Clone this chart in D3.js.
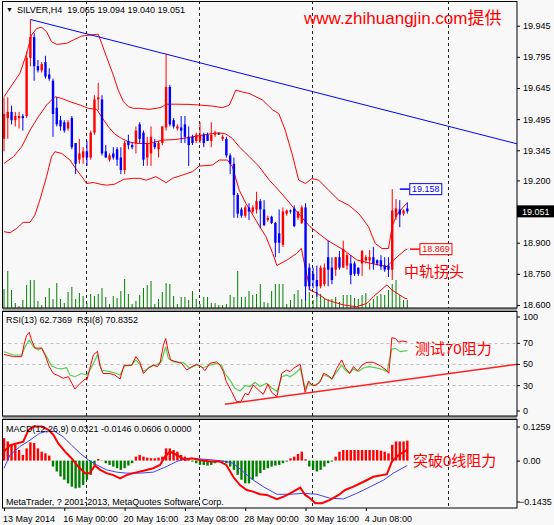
<!DOCTYPE html>
<html>
<head>
<meta charset="utf-8">
<script src="https://cdn.jsdelivr.net/npm/d3@7"></script>
<style>
  body { margin: 0; background: #f8f8f8; }
  svg { display: block; font-family: "Liberation Sans", Arial, sans-serif; }
  .axis text { font-size: 9px; fill: #000; }
  .axis line { stroke: #000; }
  .label { font-size: 9px; fill: #000; white-space: pre; }
  .note { fill: #ff0000; font-family: "Liberation Sans", "Noto Sans CJK SC", sans-serif; }
</style>
</head>
<body>
<svg id="chart" width="554" height="525"></svg>
<script>
// SILVER H4, bars 0..107
const open = [19.40,19.50,19.53,19.49,19.50,19.51,19.51,19.79,19.89,19.75,
  19.73,19.77,19.71,19.68,19.55,19.49,19.48,19.45,19.50,19.38,
  19.30,19.31,19.34,19.31,19.43,19.59,19.59,19.34,19.30,19.33,
  19.35,19.31,19.25,19.39,19.37,19.38,19.47,19.43,19.31,19.33,
  19.38,19.35,19.38,19.455,19.65,19.49,19.45,19.455,19.47,19.41,
  19.41,19.39,19.39,19.42,19.42,19.39,19.42,19.426,19.40,19.40,
  19.32,19.28,19.13,19.06,19.03,19.07,19.05,19.06,19.10,19.06,
  19.01,19.025,18.995,18.945,18.89,19.04,19.055,19.065,19.02,18.995,
  19.07,18.78,18.75,18.72,18.69,18.70,18.83,18.78,18.77,18.83,
  18.78,18.79,18.80,18.80,18.78,18.80,18.815,18.815,18.83,18.815,
  18.815,18.79,18.79,18.77,19.025,19.06,19.04,19.065];
const high = [19.60,19.60,19.56,19.53,19.53,19.52,19.82,19.975,19.91,19.78,
  19.77,19.80,19.74,19.69,19.60,19.51,19.49,19.49,19.51,19.38,
  19.40,19.36,19.39,19.44,19.61,19.67,19.61,19.37,19.33,19.36,
  19.36,19.36,19.39,19.42,19.38,19.46,19.48,19.44,19.41,19.46,
  19.40,19.39,19.46,19.81,19.66,19.50,19.47,19.51,19.51,19.46,
  19.42,19.43,19.48,19.43,19.43,19.48,19.44,19.43,19.42,19.41,
  19.33,19.31,19.14,19.07,19.08,19.09,19.08,19.145,19.11,19.105,
  19.03,19.03,19.00,19.06,19.07,19.06,19.06,19.08,19.05,19.08,
  19.09,18.80,18.78,18.79,18.79,18.80,18.91,18.83,18.83,18.86,
  18.91,18.85,18.84,18.81,18.78,18.865,18.84,18.865,18.88,18.82,
  18.84,18.83,18.83,19.158,19.11,19.105,19.06,19.094];
const low = [19.34,19.40,19.47,19.46,19.45,19.44,19.50,19.75,19.68,19.72,
  19.72,19.69,19.68,19.41,19.46,19.44,19.43,19.44,19.35,19.23,
  19.28,19.28,19.27,19.30,19.42,19.54,19.32,19.31,19.29,19.30,
  19.27,19.23,19.23,19.35,19.35,19.33,19.38,19.27,19.27,19.27,
  19.35,19.31,19.37,19.44,19.46,19.45,19.44,19.38,19.38,19.27,
  19.37,19.38,19.38,19.36,19.39,19.36,19.41,19.42,19.39,19.31,
  19.23,19.02,19.02,19.02,19.02,19.01,19.04,19.04,18.97,18.98,
  19.00,18.99,18.83,18.85,18.88,19.03,19.04,18.975,19.01,18.99,
  18.62,18.67,18.68,18.64,18.68,18.69,18.69,18.70,18.74,18.77,
  18.78,18.77,18.70,18.74,18.74,18.74,18.80,18.77,18.77,18.79,
  18.77,18.76,18.735,18.72,19.01,18.975,19.03,19.040];
const close = [19.52,19.53,19.49,19.51,19.51,19.50,19.79,19.89,19.75,19.73,
  19.76,19.70,19.69,19.52,19.47,19.46,19.44,19.48,19.36,19.28,
  19.33,19.34,19.31,19.43,19.59,19.60,19.33,19.31,19.32,19.31,
  19.30,19.25,19.38,19.37,19.36,19.44,19.40,19.30,19.38,19.41,
  19.36,19.38,19.46,19.65,19.47,19.46,19.46,19.44,19.41,19.37,
  19.38,19.42,19.42,19.38,19.39,19.42,19.43,19.426,19.41,19.32,
  19.28,19.13,19.04,19.03,19.07,19.05,19.07,19.10,19.06,18.985,
  19.02,18.995,18.90,18.90,19.05,19.055,19.05,18.98,19.05,19.07,
  18.69,18.69,18.72,18.69,18.78,18.78,18.77,18.72,18.83,18.78,
  18.87,18.84,18.745,18.75,18.75,18.86,18.83,18.83,18.80,18.80,
  18.785,18.77,18.77,19.055,19.065,19.035,19.055,19.051];
const volume = [1900,3700,1800,500,200,800,2300,2800,2800,700,
  300,1100,2000,900,2500,900,500,1600,2100,900,
  1500,1200,500,1400,1200,1400,2000,1100,400,1200,
  1000,1700,2900,1400,400,700,1300,2000,2300,2700,
  400,900,1600,2500,2400,1200,400,1100,1100,800,
  1700,900,400,1100,1100,500,500,300,300,400,
  1300,1100,3700,1100,1100,1700,1300,1400,2400,600,
  500,1700,2400,2400,2400,400,800,1400,1800,900,
  2400,1600,800,1600,1400,1000,900,900,1100,600,
  1300,1300,1300,1000,900,1300,1500,500,900,1200,
  1400,1300,1800,2400,2800,1300,800,800];

// Bollinger bands, [bar, price]
const bandUpper = [[0,19.603],[4.2,19.715],[6,19.811],[7.3,19.90],[8.7,19.932],[10,19.937],[11.3,19.916],
  [12.6,19.868],[14,19.855],[16.6,19.86],[18.4,19.876],[20.6,19.895],[22.8,19.90],[25,19.904],[25.9,19.86],
  [27.2,19.795],[29,19.707],[30.3,19.635],[31.7,19.579],[33,19.555],[34.3,19.547],[36,19.547],[38.5,19.542],
  [41.6,19.551],[43,19.567],[45.6,19.567],[49.1,19.566],[51.8,19.563],[55.3,19.558],[58,19.55],[59.8,19.563],
  [61.5,19.635],[62.9,19.627],[65,19.619],[68.6,19.587],[71.3,19.539],[72.9,19.522],[74.6,19.442],[76.4,19.33],
  [78.2,19.201],[80,19.185],[81.7,19.209],[83.5,19.201],[86.1,19.153],[88.8,19.105],[91.4,19.081],[94.1,19.041],
  [96.7,18.977],[98.5,18.896],[100.3,18.872],[102,18.872],[103,18.98],[104.2,19.034],[106.4,19.082],[107,19.09]];
const bandMiddle = [[0,19.282],[2.5,19.314],[4.7,19.362],[6.9,19.442],[9.1,19.506],[11.3,19.563],[13.5,19.603],
  [15.3,19.595],[17.5,19.579],[20.2,19.563],[22.4,19.547],[24.6,19.542],[25.9,19.506],[27.7,19.458],[29.4,19.423],
  [31.2,19.402],[33,19.386],[35.2,19.378],[38.5,19.378],[42.1,19.394],[45.6,19.397],[49.1,19.407],[52.7,19.418],
  [55.3,19.426],[57.1,19.429],[58.9,19.423],[60.6,19.402],[62.4,19.362],[65.1,19.314],[67.7,19.266],[70.4,19.201],
  [72.4,19.162],[75.1,19.106],[77.7,19.049],[81.2,18.977],[85.7,18.913],[90.1,18.865],[93.6,18.817],[97.2,18.801],
  [101.6,18.785],[102.9,18.809],[106.4,18.865],[107,18.869]];
const bandLower = [[0,18.953],[1.6,18.948],[3.4,18.969],[5.1,18.998],[6.9,18.998],[8.2,19.033],[9.5,19.105],
  [11.3,19.218],[12.6,19.314],[13.5,19.338],[15.3,19.33],[17.5,19.298],[19.3,19.25],[21,19.21],[21.9,19.185],
  [23.7,19.19],[25.5,19.182],[27.2,19.177],[29.4,19.182],[31.7,19.205],[34.3,19.21],[36,19.21],[37.7,19.201],
  [40.3,19.218],[43,19.189],[44.7,19.21],[47.4,19.226],[50,19.242],[51.8,19.269],[55.3,19.274],[57.1,19.298],
  [59.3,19.298],[60.6,19.266],[62.4,19.153],[64.2,19.089],[66.8,19.009],[69.5,18.929],[71.3,18.848],[72.4,18.79],
  [75.1,18.817],[77.7,18.849],[78.9,18.873],[79.5,18.817],[81.2,18.672],[83,18.657],[85.7,18.624],[90.1,18.600],
  [93.6,18.592],[96.3,18.608],[98,18.640],[101.6,18.697],[102.9,18.672],[106.4,18.632],[107,18.63]];
const priceTrend = [[7,19.975],[43,19.808]];

// RSI, [bar, value]
const rsi8 = [[0,59],[2.5,57],[4.7,57],[5.3,68],[6,77],[6.7,80],[7.3,72.6],[8.2,65],[10,65],[10.9,58.5],[12,47.5],
  [13.1,41],[14.4,39],[15.7,36.5],[17.1,38],[18,31.8],[18.8,26.4],[20.2,31.8],[21.5,35.8],[22,35],[22.8,46],
  [23.7,58.5],[24.8,62],[25.5,47.5],[26.3,41],[28.1,41],[29.4,39.6],[30.8,35.8],[31.8,48.4],[33,48.4],[33.9,49],
  [35,57],[36,52],[37,41],[38.3,46],[39.6,49],[40.7,47.5],[41.4,51],[42.3,68],[42.9,74],[43.6,61.6],[44.2,53.8],
  [45.8,52],[47.1,50.6],[48.5,44.3],[49.8,47.5],[51.1,49.7],[52.4,47.5],[53.3,43.7],[54.6,50.6],[56.4,52],[57.3,49],
  [58.2,42.8],[59,33.3],[60.4,23.9],[61.7,14.5],[62.8,14.5],[64,22.3],[64.8,20.8],[66.1,30.2],[67.5,25.5],
  [68.8,21.4],[70,31],[71,23.3],[72.4,19.2],[73.7,41.2],[75,44.3],[75.9,42.8],[76.8,46],[78.6,49.7],[79.9,23.3],
  [80.8,34],[81.7,30.2],[82.6,29.6],[83.9,33.3],[84.8,41.2],[86.1,39],[87,35.8],[88.3,46],[89.6,53.8],[90.5,46.5],
  [91.7,41.2],[92.7,47.5],[93.8,43.5],[95,49],[96.3,51.6],[98,51.6],[99.8,48.4],[101.4,44.3],[102.1,41.2],
  [102.9,74.8],[103.8,74.2],[104.7,70.5],[105.6,71.7],[107,70.8]];
const rsi13 = [[0,61.6],[2.5,58.5],[4.7,58.5],[5.6,66.3],[6.7,72.6],[7.8,66.3],[9.1,63.2],[10,65],[11.3,57],
  [12.6,48.4],[14,46],[15.3,45.4],[16.6,46.5],[17.5,39.6],[18.8,38],[20.6,41],[22,39.6],[23.3,47.5],[24.8,58.5],
  [25.9,44.3],[28.1,42.8],[29.9,41],[30.8,39.6],[32.1,49],[33.9,49],[35,53.8],[36,49.7],[37,42.8],[38.7,47.5],
  [40.5,49],[41.8,52.8],[42.9,66.3],[43.6,55.3],[45,52],[47.6,51.3],[49.3,46],[51.1,49],[52.9,46.5],[54.6,49],
  [56.4,50.6],[57.7,49],[58.6,41],[59.9,35],[61.3,27],[62.6,24.5],[64,29.6],[65.3,28.7],[66.6,32.7],[67.9,28.7],
  [69.7,31.8],[71,27.6],[72.4,24],[73.7,38],[75,39.6],[75.9,38],[77.3,41.2],[78.6,46],[79.9,27],[80.8,31.8],
  [82.1,29.6],[83.4,31.8],[84.8,39.6],[86.1,38],[87,35.8],[88.3,42.8],[89.6,49],[90.5,44.3],[91.7,41.2],
  [92.7,45.4],[94,42.8],[95.2,46],[96.7,47.5],[98.5,46.5],[100.3,45],[101.6,42.8],[102.9,64.2],[103.8,64.8],
  [105.1,61.6],[107,62.7]];
const rsiTrend = [[58.6,12],[136.1,49.7]];

// MACD
const macdMain = [[0,0.027],[1.6,0.047],[3.4,0.052],[5.1,0.057],[6.5,0.093],[7.8,0.103],[10,0.103],[11.8,0.093],
  [13.1,0.078],[14.4,0.052],[16.2,0.027],[17.9,0.007],[19.7,-0.018],[21.5,-0.038],[22.8,-0.038],[24.1,-0.015],
  [25.5,-0.028],[27.2,-0.038],[29,-0.044],[30.8,-0.054],[32.5,-0.044],[34.3,-0.038],[37,-0.031],[39.6,-0.023],
  [41.4,-0.013],[42.7,0.012],[44,0.027],[45.8,0.017],[48,0.002],[49.8,0.007],[52,0.002],[54.6,-0.003],[57.3,-0.003],
  [59,-0.013],[60.8,-0.049],[62.6,-0.074],[64.4,-0.089],[66.1,-0.094],[67.9,-0.102],[69.7,-0.104],[72.4,-0.117],
  [74.2,-0.109],[75.9,-0.099],[78.6,-0.082],[79.9,-0.104],[81.2,-0.114],[82.6,-0.129],[84.3,-0.129],[86.5,-0.119],
  [88.8,-0.104],[90.5,-0.089],[92.7,-0.079],[95.4,-0.064],[98,-0.049],[101.6,-0.041],[102.9,-0.003],[104.7,0.017],
  [107,0.0321]];
const macdSignal = [[0,-0.023],[1.6,0.017],[4.2,0.042],[6.9,0.062],[9.5,0.083],[11.8,0.090],[13.5,0.088],
  [15.7,0.072],[17.9,0.047],[20.2,0.022],[22.4,0.002],[24.6,-0.013],[27.2,-0.028],[29.9,-0.035],[32.5,-0.038],
  [36,-0.038],[39.6,-0.035],[43.1,-0.018],[45.8,-0.003],[48.5,0.007],[52,0.005],[55.5,0.002],[59,-0.003],
  [60.8,-0.008],[63.5,-0.034],[66.1,-0.059],[68.8,-0.079],[72.4,-0.102],[75.9,-0.102],[79.5,-0.099],[83,-0.102],
  [86.5,-0.114],[90.1,-0.116],[93.6,-0.099],[97.2,-0.079],[100.7,-0.059],[103.3,-0.038],[107,-0.0146]];
const macdHist = [0.068,0.058,0.048,0.048,0.032,0.017,0.037,0.055,0.053,0.037,
  0.027,0.022,0.015,-0.018,-0.033,-0.048,-0.058,-0.069,-0.079,-0.084,
  -0.082,-0.074,-0.058,-0.043,-0.013,0.005,0.001,-0.008,-0.013,-0.018,
  -0.023,-0.028,-0.023,-0.015,-0.008,0.012,0.017,0.012,0.009,0.007,
  0.007,0.009,0.012,0.037,0.037,0.032,0.027,0.017,0.012,0.007,
  -0.003,-0.008,-0.013,-0.013,-0.015,-0.013,-0.008,-0.003,-0.003,-0.008,
  -0.018,-0.028,-0.043,-0.058,-0.069,-0.069,-0.058,-0.048,-0.038,-0.028,
  -0.023,-0.018,-0.015,-0.013,-0.008,-0.003,0.007,0.012,0.020,0.027,
  0.004,-0.018,-0.028,-0.033,-0.028,-0.018,-0.008,-0.003,0.012,0.027,
  0.032,0.032,0.032,0.032,0.032,0.032,0.032,0.032,0.032,0.032,
  0.030,0.027,0.022,0.048,0.058,0.058,0.058,0.0606];

// axes
const priceTicks = [19.945, 19.795, 19.645, 19.495, 19.345, 19.200, 18.900, 18.750, 18.600];
const rsiTicks = [0, 30, 50, 70, 100];
const rsiLevels = [30, 50, 70];
const macdTicks = [-0.1435, 0, 0.1259];
const timeBars = [0, 16, 32, 48, 64, 80, 96];
const timeLabels = ['13 May 2014', '16 May 00:00', '20 May 16:00', '23 May 08:00',
  '28 May 00:00', '30 May 16:00', '4 Jun 08:00'];
const gridBars = [21.75, 51.75, 81.75, 117.75];
const lastPrice = 19.051;
const tagBars = [105, 107.7];
const tagValues = [19.158, 18.869];

const svg = d3.select('#chart');
const left = 2.5, right = 517;
const main = {top: 1, bottom: 308};
const rsiBox = {top: 311, bottom: 416};
const macdBox = {top: 419, bottom: 508};

const x = d3.scaleLinear().domain([0, 136.1]).range([4, right]);
const y = d3.scaleLinear().domain([18.600, 19.945]).range([305, 25.7]);
const yVol = d3.scaleLinear().domain([0, 6000]).range([main.bottom, main.bottom - 60]);
const yRsi = d3.scaleLinear().domain([0, 100]).range([417, rsiBox.top]);
const yMacd = d3.scaleLinear().domain([-0.1435, 0.1259]).range([macdBox.bottom, macdBox.top]);

// panels and separators
[main, rsiBox, macdBox].forEach((p, k) => {
    svg.append('clipPath').attr('id', 'clip' + k)
        .append('rect').attr('x', left).attr('y', p.top)
        .attr('width', right - left).attr('height', p.bottom - p.top);
});
svg.append('rect').attr('x', left).attr('y', main.bottom).attr('width', right - left)
    .attr('height', rsiBox.top - main.bottom).attr('fill', '#a0a0a0');
svg.append('rect').attr('x', left).attr('y', rsiBox.bottom).attr('width', right - left)
    .attr('height', macdBox.top - rsiBox.bottom).attr('fill', '#a0a0a0');

const gMain = svg.append('g').attr('clip-path', 'url(#clip0)');
const gRsi = svg.append('g').attr('clip-path', 'url(#clip1)');
const gMacd = svg.append('g').attr('clip-path', 'url(#clip2)');

// vertical dashed grid
[[gMain, main], [gRsi, rsiBox], [gMacd, macdBox]].forEach(([g, p]) => {
    g.selectAll('line.vgrid').data(gridBars).enter().append('line')
        .attr('class', 'vgrid')
        .attr('x1', d => Math.round(x(d)) + 0.5).attr('x2', d => Math.round(x(d)) + 0.5)
        .attr('y1', p.top).attr('y2', p.bottom)
        .attr('stroke', '#222').attr('stroke-dasharray', '3,3');
});

// volumes
gMain.selectAll('line.vol').data(volume).enter().append('line')
    .attr('x1', (d, i) => x(i)).attr('x2', (d, i) => x(i))
    .attr('y1', yVol(0)).attr('y2', d => yVol(d))
    .attr('stroke', '#008000').attr('stroke-width', 1);

// bollinger bands
const priceLine = d3.line().x(d => x(d[0])).y(d => y(d[1]));
[bandUpper, bandMiddle, bandLower].forEach(b => {
    gMain.append('path').attr('d', priceLine(b))
        .attr('fill', 'none').attr('stroke', '#ff0000').attr('stroke-width', 1);
});

// trend line over the highs
let slope = (priceTrend[1][1] - priceTrend[0][1]) / (priceTrend[1][0] - priceTrend[0][0]);
let endBar = x.domain()[1];
gMain.append('line')
    .attr('x1', x(priceTrend[0][0])).attr('y1', y(priceTrend[0][1]))
    .attr('x2', x(endBar)).attr('y2', y(priceTrend[0][1] + slope * (endBar - priceTrend[0][0])))
    .attr('stroke', '#0000ff').attr('stroke-width', 1);

// candles
function candleColor(i) {
    if (close[i] > open[i]) return '#ff0000';
    if (close[i] < open[i]) return '#0000ff';
    return '#000000';
}
const candles = gMain.selectAll('g.candle').data(d3.range(open.length)).enter()
    .append('g').attr('class', 'candle');
candles.append('line')
    .attr('x1', i => x(i)).attr('x2', i => x(i))
    .attr('y1', i => y(high[i])).attr('y2', i => y(low[i]))
    .attr('stroke', candleColor).attr('stroke-width', 1);
candles.append('rect')
    .attr('x', i => x(i) - 1.2).attr('width', 2.4)
    .attr('y', i => y(Math.max(open[i], close[i])))
    .attr('height', i => Math.max(1, Math.abs(y(open[i]) - y(close[i]))))
    .attr('fill', candleColor);

// price tags
tagValues.forEach((v, k) => {
    let c = k === 0 ? '#0000ff' : '#ff0000';
    let x0 = x(tagBars[k]);
    let yy = y(v);
    svg.append('line').attr('x1', x0).attr('x2', x0 + 10).attr('y1', yy).attr('y2', yy)
        .attr('stroke', c).attr('stroke-width', 1.5);
    svg.append('rect').attr('x', x0 + 10).attr('y', yy - 5.5).attr('width', 32).attr('height', 11)
        .attr('fill', '#fff').attr('stroke', c);
    svg.append('text').attr('class', 'label').attr('x', x0 + 26).attr('y', yy + 3.3)
        .attr('text-anchor', 'middle').style('fill', c).text(v.toFixed(3));
});

// RSI panel
gRsi.selectAll('line.hgrid').data(rsiLevels).enter().append('line')
    .attr('x1', left).attr('x2', right)
    .attr('y1', d => Math.round(yRsi(d)) + 0.5).attr('y2', d => Math.round(yRsi(d)) + 0.5)
    .attr('stroke', '#c0c0c0').attr('stroke-dasharray', '3,3');
const rsiLine = d3.line().x(d => x(d[0])).y(d => yRsi(d[1]));
gRsi.append('path').attr('d', rsiLine(rsi13)).attr('fill', 'none')
    .attr('stroke', '#55d055').attr('stroke-width', 1.2);
gRsi.append('path').attr('d', rsiLine(rsi8)).attr('fill', 'none')
    .attr('stroke', '#ff0000').attr('stroke-width', 1);
gRsi.append('path').attr('d', rsiLine(rsiTrend)).attr('fill', 'none')
    .attr('stroke', '#ff2020').attr('stroke-width', 1.5);

// MACD panel
gMacd.selectAll('rect.hist').data(macdHist).enter().append('rect')
    .attr('x', (d, i) => x(i) - 1.2).attr('width', 2.4)
    .attr('y', d => yMacd(Math.max(0, d)))
    .attr('height', d => Math.abs(yMacd(d) - yMacd(0)))
    .attr('fill', d => d >= 0 ? '#ff0000' : '#008000');
const macdLine = d3.line().x(d => x(d[0])).y(d => yMacd(d[1]));
gMacd.append('path').attr('d', macdLine(macdSignal)).attr('fill', 'none')
    .attr('stroke', '#4040ff').attr('stroke-width', 1);
gMacd.append('path').attr('d', macdLine(macdMain)).attr('fill', 'none')
    .attr('stroke', '#ff0000').attr('stroke-width', 2);

// frames
[main, rsiBox, macdBox].forEach(p => {
    svg.append('rect').attr('x', left).attr('y', p.top + 0.5)
        .attr('width', right - left).attr('height', p.bottom - p.top - 0.5)
        .attr('fill', 'none').attr('stroke', '#000');
});

// right axes
function rightAxis(scale, ticks, fmt) {
    return svg.append('g').attr('class', 'axis')
        .attr('transform', 'translate(' + right + ',0)')
        .call(d3.axisRight(scale).tickValues(ticks).tickSize(3).tickSizeOuter(0).tickFormat(fmt))
        .call(g => g.select('.domain').remove());
}
rightAxis(y, priceTicks, d3.format('.3f'));
let ra = rightAxis(yRsi, rsiTicks, d3.format('d'));
ra.selectAll('.tick').filter(d => d === 100).attr('transform', 'translate(0,' + (yRsi(100) + 6) + ')');
ra.selectAll('.tick').filter(d => d === 0).attr('transform', 'translate(0,' + (yRsi(0) - 6) + ')');
let ma = rightAxis(yMacd, macdTicks, d => d === 0 ? '0.00' : d3.format('.4f')(d));
ma.selectAll('.tick').filter(d => d > 0).attr('transform', 'translate(0,' + (yMacd(0.1259) + 8) + ')');
ma.selectAll('.tick').filter(d => d < 0).attr('transform', 'translate(0,' + (yMacd(-0.1435) - 6) + ')')
    .select('text').attr('x', 2);

// current price marker
svg.append('rect').attr('x', right).attr('y', y(lastPrice) - 6).attr('width', 37).attr('height', 12)
    .attr('fill', '#000');
svg.append('text').attr('class', 'label').attr('x', right + 5).attr('y', y(lastPrice) + 3.3)
    .style('fill', '#fff').text(lastPrice.toFixed(3));

// time axis
svg.append('g').attr('class', 'axis')
    .attr('transform', 'translate(0,' + macdBox.bottom + ')')
    .call(d3.axisBottom(x).tickValues(timeBars).tickSize(3).tickSizeOuter(0)
        .tickFormat((d, i) => timeLabels[i]))
    .call(g => g.select('.domain').remove())
    .call(g => g.selectAll('text').attr('text-anchor', 'start').attr('x', -1.5).attr('dy', '0.9em'));

// headers
svg.append('text').attr('class', 'label').attr('x', 6).attr('y', 12).style('font-size', '7px').text('\u25BC');
svg.append('text').attr('class', 'label').attr('x', 17).attr('y', 13)
    .text('SILVER,H4  19.065 19.094 19.040 19.051');
svg.append('text').attr('class', 'label').attr('x', 6).attr('y', 323)
    .text('RSI(13) 62.7369  RSI(8) 70.8352');
svg.append('text').attr('class', 'label').attr('x', 6).attr('y', 432)
    .text('MACD(12,26,9) 0.0321 -0.0146 0.0606 0.0000');
svg.append('text').attr('class', 'label').attr('x', 6).attr('y', 505)
    .text('MetaTrader, ? 2001-2013, MetaQuotes Software Corp.');

// notes
svg.append('text').attr('class', 'note').attr('x', 304).attr('y', 23.5).style('font-size', '17px')
    .text('www.zhihuangjin.com提供');
svg.append('text').attr('class', 'note').attr('x', 404).attr('y', 277).style('font-size', '15px')
    .text('中轨拐头');
svg.append('text').attr('class', 'note').attr('x', 415).attr('y', 354).style('font-size', '15px')
    .text('测试70阻力');
svg.append('text').attr('class', 'note').attr('x', 413).attr('y', 466).style('font-size', '15px')
    .text('突破0线阻力');
</script>
</body>
</html>
